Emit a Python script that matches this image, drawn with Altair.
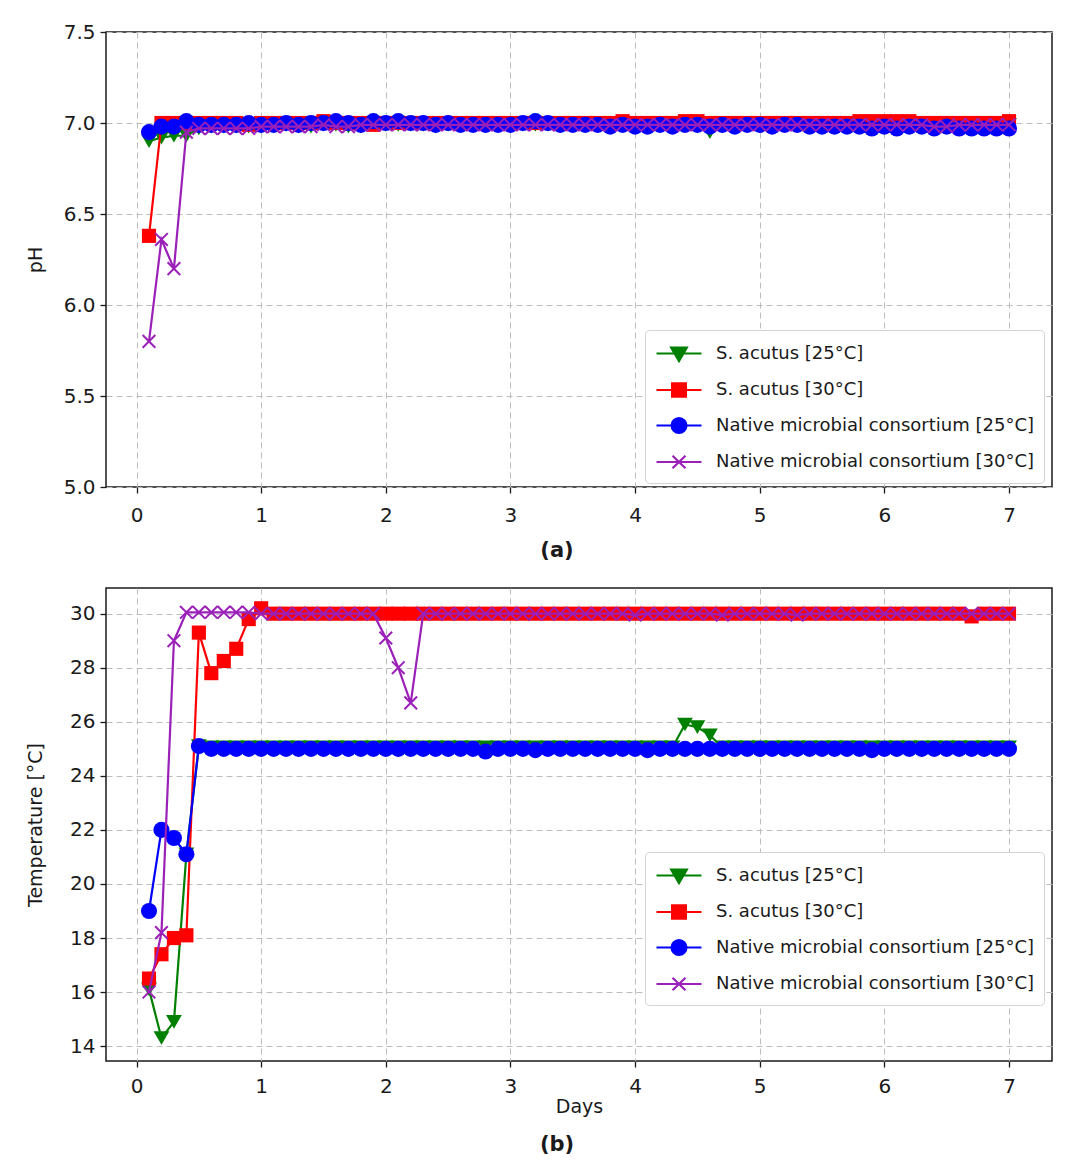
import altair as alt
import pandas as pd

days = [0.1, 0.2, 0.3, 0.4, 0.5, 0.6, 0.7, 0.8, 0.9, 1.0,
        1.1, 1.2, 1.3, 1.4, 1.5, 1.6, 1.7, 1.8, 1.9, 2.0,
        2.1, 2.2, 2.3, 2.4, 2.5, 2.6, 2.7, 2.8, 2.9, 3.0,
        3.1, 3.2, 3.3, 3.4, 3.5, 3.6, 3.7, 3.8, 3.9, 4.0,
        4.1, 4.2, 4.3, 4.4, 4.5, 4.6, 4.7, 4.8, 4.9, 5.0,
        5.1, 5.2, 5.3, 5.4, 5.5, 5.6, 5.7, 5.8, 5.9, 6.0,
        6.1, 6.2, 6.3, 6.4, 6.5, 6.6, 6.7, 6.8, 6.9, 7.0]

series_names = ["S. acutus [25°C]", "S. acutus [30°C]",
                "Native microbial consortium [25°C]", "Native microbial consortium [30°C]"]
series_colors = ["#008000", "#ff0000", "#0000ff", "#9a20b8"]

# pH readings
ph_sa25 = [6.90, 6.92, 6.93, 6.93, 6.97, 6.98, 6.98, 6.98, 6.98, 6.98,
           6.98, 6.99, 6.98, 6.98, 6.99, 6.99, 6.98, 6.98, 6.99, 6.99,
           6.99, 6.99, 6.99, 6.98, 6.99, 6.99, 6.99, 6.99, 6.99, 6.99,
           6.99, 6.99, 6.99, 6.99, 6.99, 6.99, 6.99, 6.99, 6.99, 6.99,
           6.99, 6.99, 6.99, 6.99, 6.98, 6.95, 6.98, 6.99, 6.99, 6.99,
           6.99, 6.99, 6.99, 6.99, 6.99, 6.99, 6.99, 6.99, 6.99, 6.99,
           6.99, 6.99, 6.99, 6.99, 6.99, 6.99, 6.99, 6.99, 6.99, 6.99]
ph_sa30 = [6.38, 7.00, 7.00, 7.00, 7.00, 7.00, 7.00, 7.00, 6.99, 7.00,
           7.00, 7.00, 7.00, 7.00, 7.01, 7.00, 7.00, 7.00, 6.99, 7.00,
           7.00, 7.00, 7.00, 7.00, 7.00, 7.00, 7.00, 7.00, 7.00, 7.00,
           7.00, 7.00, 7.00, 7.00, 7.00, 7.00, 7.00, 7.00, 7.01, 7.00,
           7.00, 7.00, 7.00, 7.01, 7.01, 7.00, 7.00, 7.00, 7.00, 7.00,
           7.00, 7.00, 7.00, 7.00, 7.00, 7.00, 7.00, 7.01, 7.01, 7.01,
           7.01, 7.01, 7.00, 7.00, 7.00, 7.00, 7.00, 7.00, 7.00, 7.01]
ph_nmc25 = [6.95, 6.98, 6.98, 7.01, 6.99, 6.99, 6.99, 6.99, 7.00, 6.99,
            6.99, 7.00, 6.99, 7.00, 7.00, 7.01, 7.00, 6.99, 7.01, 7.00,
            7.01, 7.00, 7.00, 6.99, 7.00, 6.99, 6.99, 6.99, 6.99, 6.99,
            7.00, 7.01, 7.00, 6.99, 6.99, 6.99, 6.99, 6.98, 6.99, 6.98,
            6.98, 6.99, 6.98, 6.99, 6.99, 6.98, 6.99, 6.98, 6.99, 6.99,
            6.98, 6.99, 6.99, 6.98, 6.98, 6.98, 6.98, 6.98, 6.97, 6.98,
            6.97, 6.98, 6.98, 6.97, 6.98, 6.97, 6.97, 6.97, 6.97, 6.97]
ph_nmc30 = [5.80, 6.36, 6.20, 6.95, 6.97, 6.97, 6.97, 6.97, 6.97, 6.98,
            6.98, 6.98, 6.98, 6.98, 6.99, 6.98, 6.98, 6.99, 6.99, 6.99,
            6.99, 6.99, 6.99, 6.99, 6.99, 6.99, 6.99, 6.99, 6.99, 6.99,
            6.99, 6.99, 6.99, 6.99, 6.99, 6.99, 6.99, 6.99, 6.99, 6.99,
            6.99, 6.99, 6.99, 6.99, 6.99, 6.99, 6.99, 6.99, 6.99, 6.99,
            6.99, 6.99, 6.99, 6.99, 6.99, 6.99, 6.99, 6.99, 6.99, 6.99,
            6.99, 6.99, 6.99, 6.98, 6.98, 6.99, 6.99, 6.99, 6.99, 6.99]

# Temperature readings
t_sa25 = [16.1, 14.3, 14.9, 21.1, 25.1, 25.05, 25.05, 25.05, 25.05, 25.05,
          25.05, 25.05, 25.05, 25.05, 25.05, 25.05, 25.05, 25.05, 25.05, 25.05,
          25.05, 25.05, 25.05, 25.05, 25.05, 25.05, 25.05, 25.05, 25.05, 25.05,
          25.05, 25.05, 25.05, 25.05, 25.05, 25.05, 25.05, 25.05, 25.05, 25.05,
          25.05, 25.05, 25.05, 25.9, 25.8, 25.5, 25.05, 25.05, 25.05, 25.05,
          25.05, 25.05, 25.05, 25.05, 25.05, 25.05, 25.05, 25.05, 25.05, 25.05,
          25.05, 25.05, 25.05, 25.05, 25.05, 25.05, 25.05, 25.05, 25.05, 25.05]
t_sa30 = [16.5, 17.4, 18.0, 18.1, 29.3, 27.8, 28.25, 28.7, 29.8, 30.2,
          30.0, 30.0, 30.0, 30.0, 30.0, 30.0, 30.0, 30.0, 30.0, 30.0,
          30.0, 30.0, 30.0, 30.0, 30.0, 30.0, 30.0, 30.0, 30.0, 30.0,
          30.0, 30.0, 30.0, 30.0, 30.0, 30.0, 30.0, 30.0, 30.0, 30.0,
          30.0, 30.0, 30.0, 30.0, 30.0, 30.0, 30.0, 30.0, 30.0, 30.0,
          30.0, 30.0, 30.0, 30.0, 30.0, 30.0, 30.0, 30.0, 30.0, 30.0,
          30.0, 30.0, 30.0, 30.0, 30.0, 30.0, 29.9, 30.0, 30.0, 30.0]
t_nmc25 = [19.0, 22.0, 21.7, 21.1, 25.1, 25.0, 25.0, 25.0, 25.0, 25.0,
           25.0, 25.0, 25.0, 25.0, 25.0, 25.0, 25.0, 25.0, 25.0, 25.0,
           25.0, 25.0, 25.0, 25.0, 25.0, 25.0, 25.0, 24.9, 25.0, 25.0,
           25.0, 24.95, 25.0, 25.0, 25.0, 25.0, 25.0, 25.0, 25.0, 25.0,
           24.95, 25.0, 25.0, 25.0, 25.0, 25.0, 25.0, 25.0, 25.0, 25.0,
           25.0, 25.0, 25.0, 25.0, 25.0, 25.0, 25.0, 25.0, 24.95, 25.0,
           25.0, 25.0, 25.0, 25.0, 25.0, 25.0, 25.0, 25.0, 25.0, 25.0]
t_nmc30 = [16.0, 18.2, 29.0, 30.05, 30.05, 30.05, 30.05, 30.05, 30.05, 30.0,
           30.0, 30.0, 30.0, 30.0, 30.0, 30.0, 30.0, 30.0, 30.0, 29.1,
           28.0, 26.7, 30.0, 30.0, 30.0, 30.0, 30.0, 30.0, 30.0, 30.0,
           30.0, 30.0, 30.0, 30.0, 30.0, 30.0, 30.0, 30.0, 30.0, 29.95,
           30.0, 30.0, 30.0, 30.0, 30.0, 30.0, 29.95, 30.0, 30.0, 30.0,
           30.0, 30.0, 29.95, 30.0, 30.0, 30.0, 30.0, 30.0, 30.0, 30.0,
           30.0, 30.0, 30.0, 30.0, 30.0, 30.0, 30.0, 30.0, 30.0, 30.0]

ph_series = [ph_sa25, ph_sa30, ph_nmc25, ph_nmc30]
t_series = [t_sa25, t_sa30, t_nmc25, t_nmc30]

x_ticks = [0, 1, 2, 3, 4, 5, 6, 7]
ph_ticks = [5.0, 5.5, 6.0, 6.5, 7.0, 7.5]
t_ticks = [14, 16, 18, 20, 22, 24, 26, 28, 30]

X_PATH = "M-1,-1L1,1M-1,1L1,-1"
point_shapes = ["triangle-down", "square", "circle", X_PATH]
point_sizes = [250, 200, 260, 160]
point_filled = [True, True, True, False]

legend_paths = [
    "M-1,0H2.75M0.225,-0.5H1.525L0.875,0.62Z",
    "M-1,0H2.75M0.3,-0.56H1.45V0.56H0.3Z",
    "M-1,0H2.75M0.255,0A0.62,0.62 0 1,0 1.495,0A0.62,0.62 0 1,0 0.255,0Z",
    "M-1,0H2.75M0.335,-0.52L1.415,0.52M0.335,0.52L1.415,-0.52",
]

FONT = "DejaVu Sans"
PLOT_W = 946


def make_df(values_list):
    rows = []
    for name, vals in zip(series_names, values_list):
        for d, v in zip(days, vals):
            rows.append({"day": d, "series": name, "value": v})
    return pd.DataFrame(rows)


def panel(values_list, y_domain, y_ticks, y_title, y_fmt, height, x_title,
          caption, legend_y, title_x, x_label_pad, cap_offset):
    df = make_df(values_list)
    x_enc = alt.X("day:Q", scale=alt.Scale(domain=[-0.245, 7.345], nice=False, zero=False),
                  axis=alt.Axis(values=x_ticks, format="d", title=x_title,
                                labelPadding=x_label_pad,
                                titleFontSize=19, titleFont=FONT, titleFontWeight="normal",
                                titlePadding=1))
    y_enc = alt.Y("value:Q", scale=alt.Scale(domain=y_domain, nice=False, zero=False),
                  axis=alt.Axis(values=y_ticks, format=y_fmt, title=y_title,
                                labelPadding=5,
                                titleFontSize=19, titleFont=FONT, titleFontWeight="normal",
                                titleX=title_x, titleY=height / 2, titleAngle=270,
                                titleAlign="center", titleBaseline="bottom"))
    layers = []
    for i, name in enumerate(series_names):
        sub = df[df["series"] == name]
        base = alt.Chart(sub)
        line = base.mark_line(color=series_colors[i], strokeWidth=2.2).encode(
            x=x_enc, y=y_enc, order="day:Q")
        if point_filled[i]:
            pts = base.mark_point(shape=point_shapes[i], size=point_sizes[i], filled=True,
                                  color=series_colors[i], opacity=1, strokeWidth=0)
        else:
            pts = base.mark_point(shape=point_shapes[i], size=point_sizes[i], filled=False,
                                  color=series_colors[i], opacity=1, strokeWidth=2)
        pts = pts.encode(x=x_enc, y=y_enc)
        layers += [line, pts]

    legend = alt.Legend(
        title=None, orient="none", legendX=539, legendY=legend_y,
        labelFont=FONT, labelFontSize=18, labelColor="#1a1a1a", labelLimit=0,
        symbolSize=576, symbolStrokeWidth=2.2, labelOffset=34, rowPadding=10.5,
        padding=10, fillColor="white", strokeColor="#d4d4d4", cornerRadius=4,
        symbolOpacity=1,
    )
    ghost = alt.Chart(df).mark_point(opacity=1, strokeWidth=2).encode(
        x=x_enc, y=y_enc,
        fill=alt.Fill("series:N", scale=alt.Scale(domain=series_names, range=series_colors),
                      legend=legend, sort=series_names),
        stroke=alt.Stroke("series:N", scale=alt.Scale(domain=series_names, range=series_colors),
                          legend=legend, sort=series_names),
        shape=alt.Shape("series:N", scale=alt.Scale(domain=series_names, range=legend_paths),
                        legend=legend, sort=series_names),
    ).transform_filter("datum.day < -100")
    layers.append(ghost)

    return alt.layer(*layers).properties(
        width=PLOT_W, height=height,
        title=alt.TitleParams(caption, orient="bottom", anchor="middle", frame="group",
                              fontSize=21, fontWeight="bold", font=FONT, color="#1a1a1a",
                              offset=cap_offset, dx=-22),
    )


top = panel(ph_series, [5.0, 7.5], ph_ticks, "pH", ".1f", 455, None, "(a)", 298, -61, 12, 15)
bottom = panel(t_series, [13.45, 30.95], t_ticks, "Temperature [°C]", "d", 473, "Days",
               "(b)", 264, -61, 9, 18)

chart = alt.vconcat(top, bottom, spacing=25).resolve_scale(
    fill="independent", stroke="independent", shape="independent"
).resolve_legend(
    fill="independent", stroke="independent", shape="independent"
).properties(
    padding={"left": 17, "top": 13, "right": 5, "bottom": 5}
).configure(font=FONT).configure_view(
    stroke="#1a1a1a", strokeWidth=1.5
).configure_axis(
    grid=True, gridColor="#bdbdbd", gridDash=[6, 4], gridWidth=1,
    domain=False, ticks=True, tickColor="#1a1a1a", tickSize=6, tickWidth=1.3,
    labelFont=FONT, labelFontSize=20, labelColor="#1a1a1a",
    titleColor="#1a1a1a",
)

chart.save("out.html", embed_options={"renderer": "svg", "actions": False})
